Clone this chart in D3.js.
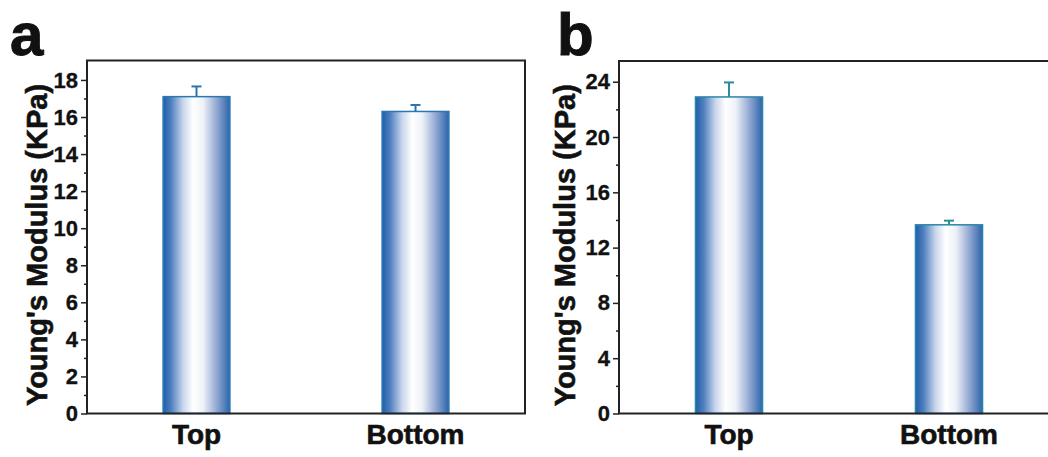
<!DOCTYPE html>
<html lang="en">
<head>
  <meta charset="UTF-8">
  <title>Young's Modulus</title>
  <script src="https://d3js.org/d3.v7.min.js"></script>
  <style>
    body { margin: 0; background: #fff; font-family: "Liberation Sans", Arial, sans-serif; }
    .tick text { font-family: "Liberation Sans", Arial, sans-serif; font-weight: bold; }
  </style>
</head>
<body>
  <div id="chart"></div>

  <script>
    // data
    const categories = ["Top", "Bottom"];
    const valuesA = [17.1, 16.3];
    const errorsA = [0.55, 0.35];
    const valuesB = [22.9, 13.65];
    const errorsB = [1.05, 0.3];
    const ticksA = [0, 2, 4, 6, 8, 10, 12, 14, 16, 18];
    const minorA = [1, 3, 5, 7, 9, 11, 13, 15, 17];
    const ticksB = [0, 4, 8, 12, 16, 20, 24];
    const minorB = [2, 6, 10, 14, 18, 22];

    const W = 1048, H = 457;

    const svg = d3.select("#chart")
                  .append("svg")
                  .attr("width", W)
                  .attr("height", H);

    // horizontal gradient used for the bars
    const grad = svg.append("defs")
                    .append("linearGradient")
                    .attr("id", "barGrad")
                    .attr("x1", "0%").attr("x2", "100%")
                    .attr("y1", "0%").attr("y2", "0%");
    [[0, "#1d5ea8"], [0.12, "#4f7fbf"], [0.3, "#c9d6ec"], [0.45, "#ffffff"],
     [0.6, "#eef1f8"], [0.82, "#8aa2cf"], [1, "#2b65ab"]].forEach(s => {
      grad.append("stop").attr("offset", s[0]).attr("stop-color", s[1]);
    });

    function panel(opt) {
      const x = d3.scaleBand()
                  .domain(categories)
                  .range([opt.left, opt.right])
                  .paddingInner(0.695)
                  .paddingOuter(0.3475);

      const y = d3.scaleLinear()
                  .domain([0, opt.ymax])
                  .range([opt.bottom, opt.top]);

      const g = svg.append("g");

      // bars
      g.selectAll(".bar")
       .data(opt.values)
       .enter()
       .append("rect")
       .attr("class", "bar")
       .attr("x", (d, i) => x(categories[i]))
       .attr("y", d => y(d))
       .attr("width", x.bandwidth())
       .attr("height", d => y(0) - y(d))
       .attr("fill", "url(#barGrad)")
       .attr("stroke", opt.barStroke)
       .attr("stroke-width", 1.5);

      // error bars (upper only)
      opt.values.forEach((v, i) => {
        const cx = x(categories[i]) + x.bandwidth() / 2;
        g.append("line")
         .attr("x1", cx).attr("x2", cx)
         .attr("y1", y(v)).attr("y2", y(v + opt.errors[i]))
         .attr("stroke", opt.errStroke)
         .attr("stroke-width", 2);
        g.append("line")
         .attr("x1", cx - 5).attr("x2", cx + 5)
         .attr("y1", y(v + opt.errors[i])).attr("y2", y(v + opt.errors[i]))
         .attr("stroke", opt.errStroke)
         .attr("stroke-width", 2);
      });

      // y axis
      const ya = g.append("g")
                  .attr("transform", `translate(${opt.left},0)`)
                  .call(d3.axisLeft(y).tickValues(opt.ticks).tickSize(6).tickPadding(3));
      ya.select(".domain").remove();
      ya.selectAll(".tick line").attr("stroke", "#222").attr("stroke-width", 1.5);
      ya.selectAll(".tick text").style("font-size", "22px").attr("fill", "#111")
        .attr("stroke", "#111").attr("stroke-width", 0.3);

      g.append("g")
       .attr("transform", `translate(${opt.left},0)`)
       .call(d3.axisLeft(y).tickValues(opt.minor).tickSize(3).tickFormat(""))
       .call(a => a.select(".domain").remove())
       .selectAll(".tick line").attr("stroke", "#222").attr("stroke-width", 1.5);

      // x labels
      const xa = g.append("g")
                  .attr("transform", `translate(0,${opt.bottom})`)
                  .call(d3.axisBottom(x).tickSize(0).tickPadding(11));
      xa.select(".domain").remove();
      xa.selectAll(".tick text").style("font-size", "28px").attr("fill", "#111")
        .attr("stroke", "#111").attr("stroke-width", 0.6);

      // frame
      g.append("rect")
       .attr("x", opt.left).attr("y", opt.top)
       .attr("width", opt.right - opt.left)
       .attr("height", opt.bottom - opt.top)
       .attr("fill", "none")
       .attr("stroke", "#222")
       .attr("stroke-width", 2);

      // axis title
      g.append("text")
       .attr("transform", `translate(${opt.titleX},${(opt.top + opt.bottom) / 2 + 8}) rotate(-90)`)
       .attr("text-anchor", "middle")
       .style("font-size", "29px")
       .style("font-weight", "bold")
       .attr("fill", "#111")
       .attr("stroke", "#111")
       .attr("stroke-width", 0.6)
       .text("Young's Modulus (KPa)");

      // panel letter
      g.append("text")
       .attr("x", opt.letterX).attr("y", 55)
       .style("font-size", "60px")
       .style("font-weight", "bold")
       .attr("fill", "#111")
       .attr("stroke", "#111")
       .attr("stroke-width", 1)
       .text(opt.letter);
    }

    panel({
      letter: "a", letterX: 10,
      left: 87, right: 525, top: 60.5, bottom: 413.5, ymax: 19.05,
      values: valuesA, errors: errorsA, ticks: ticksA, minor: minorA,
      barStroke: "#2a78b4", errStroke: "#2a74b0", titleX: 47
    });

    panel({
      letter: "b", letterX: 557,
      left: 619, right: 1059, top: 61, bottom: 413.5, ymax: 25.5,
      values: valuesB, errors: errorsB, ticks: ticksB, minor: minorB,
      barStroke: "#2a86aa", errStroke: "#2a8c9c", titleX: 575
    });
  </script>
</body>
</html>
